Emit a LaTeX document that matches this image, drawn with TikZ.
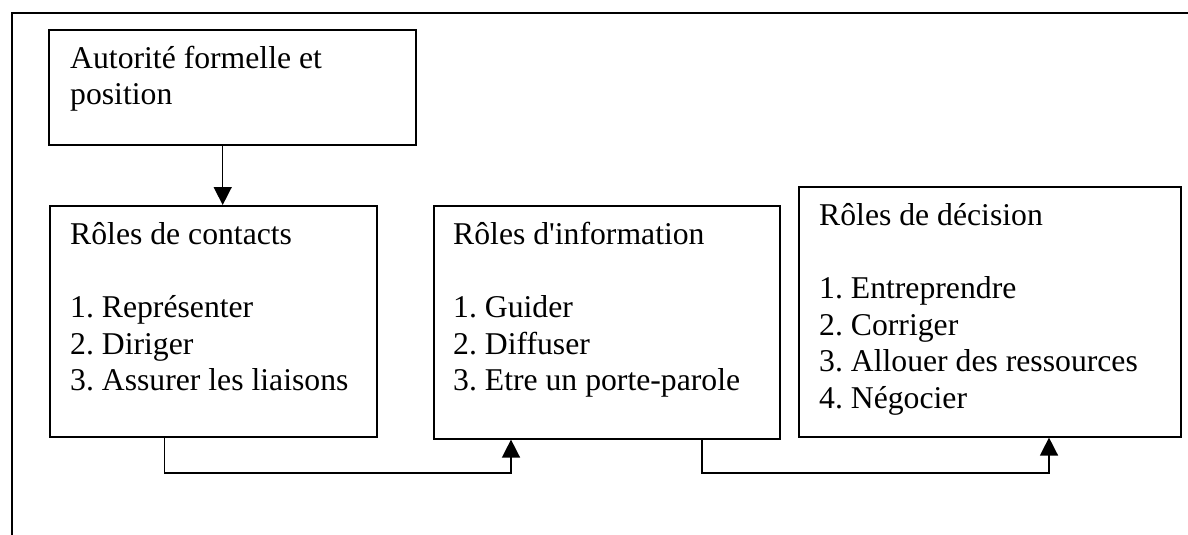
\documentclass[tikz,border=0pt]{standalone}
\usepackage{fontspec}
\setmainfont{Liberation Serif}[Ligatures=TeXOff]
\usetikzlibrary{arrows.meta}
\tikzset{
  boxnode/.style={draw=black, line width=1.6pt, rectangle, inner sep=0pt, anchor=north west},
  txt/.style={inner sep=0pt, anchor=base west, font=\fontsize{31.7pt}{36.7pt}\selectfont\frenchspacing},
  conn/.style={draw=black, line width=1.5pt, -{Triangle[length=18pt,width=18pt]}},
  frameline/.style={draw=black, line width=2pt}
}
\begin{document}
\frenchspacing
\begin{tikzpicture}[x=1pt,y=-1pt]
\useasboundingbox (0,0) rectangle (1188,535);
% outer frame
\coordinate (fa) at (12,535);
\coordinate (fb) at (12,13);
\coordinate (fc) at (1190,13);
\draw[frameline] (fa) -- (fb) -- (fc);
% boxes
\node[boxnode, minimum width=367pt, minimum height=115pt] (b1) at (48,29) {};
\node[boxnode, minimum width=327pt, minimum height=231pt] (b2) at (49,205) {};
\node[boxnode, minimum width=346pt, minimum height=233pt] (b3) at (433,205) {};
\node[boxnode, minimum width=382pt, minimum height=250pt] (b4) at (798,186) {};
% texts
\node[txt] (t1) at (70,68) {\parbox[t]{360pt}{Autorité formelle et\\position}};
\node[txt] (t2) at (70,244) {\parbox[t]{360pt}{Rôles de contacts\\[36.7pt]1. Représenter\\2. Diriger\\3. Assurer les liaisons}};
\node[txt] (t3) at (453,244) {\parbox[t]{360pt}{Rôles d'information\\[36.7pt]1. Guider\\2. Diffuser\\3. Etre un porte-parole}};
\node[txt] (t4) at (819,225) {\parbox[t]{360pt}{Rôles de décision\\[36.7pt]1. Entreprendre\\2. Corriger\\3. Allouer des ressources\\4. Négocier}};
% connectors
\coordinate (a1) at (222.7,0);
\draw[conn] (b1.south -| a1) -- (b2.north -| a1);
\coordinate (k1) at (164.6,473);
\coordinate (k2) at (511,473);
\draw[conn] (b2.south -| k1) -- (k1) -- (k2) -- (b3.south -| k2);
\coordinate (k3) at (702,473);
\coordinate (k4) at (1049,473);
\draw[conn] (b3.south -| k3) -- (k3) -- (k4) -- (b4.south -| k4);
\end{tikzpicture}
\end{document}
